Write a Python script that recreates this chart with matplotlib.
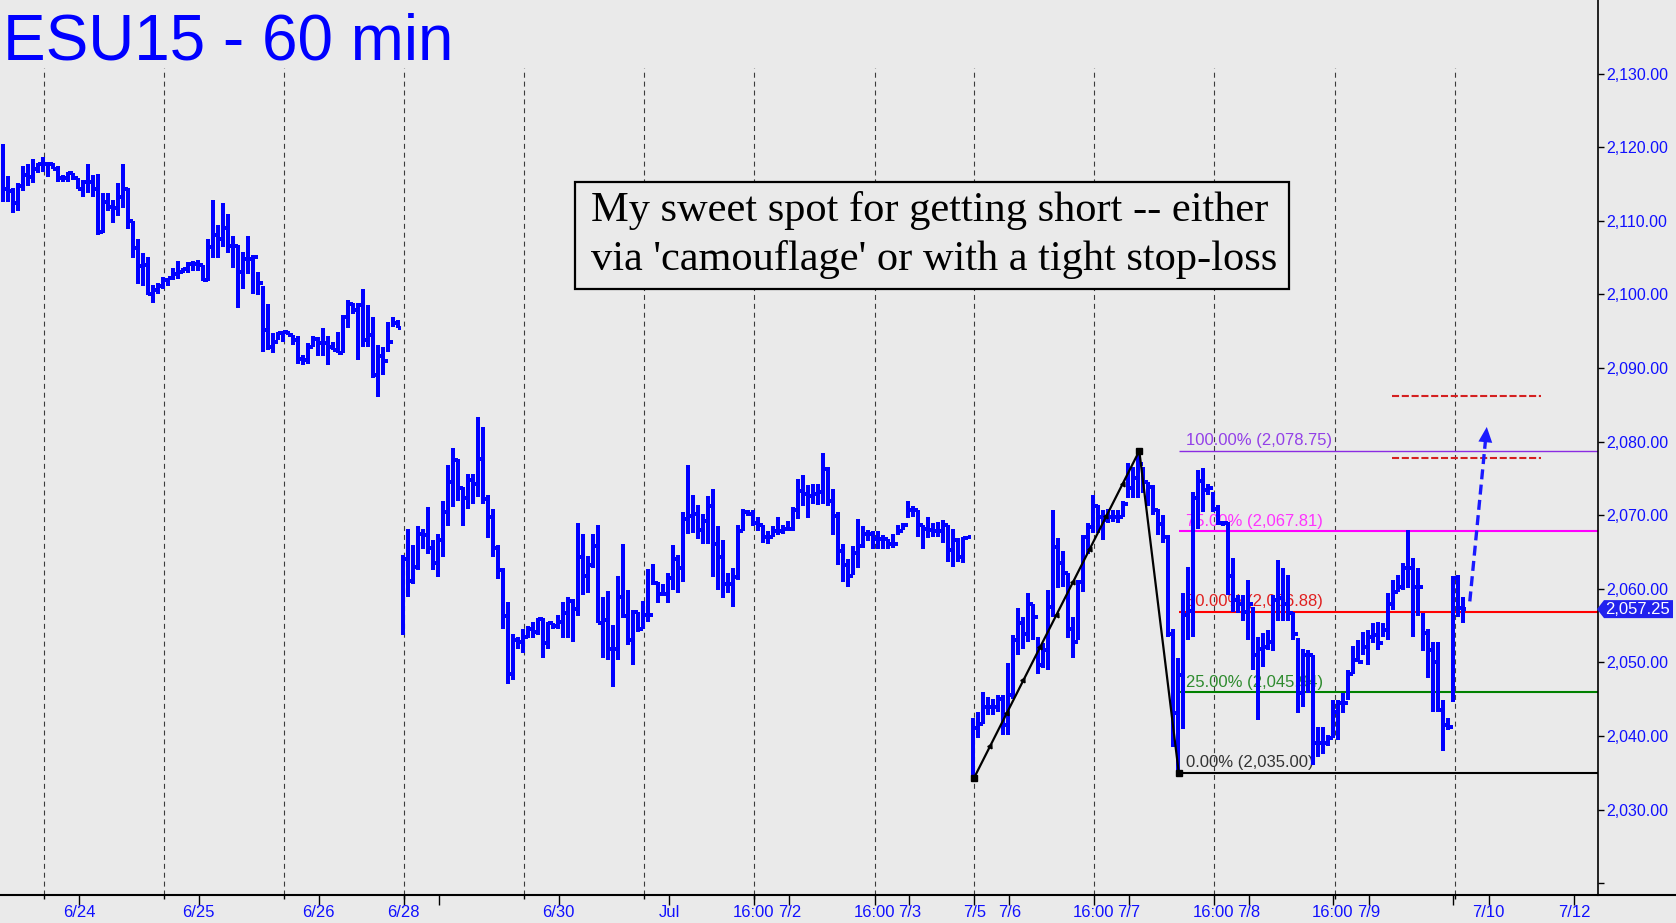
import matplotlib
matplotlib.use("Agg")
import matplotlib.pyplot as plt
from matplotlib.collections import LineCollection
from matplotlib.patches import Polygon, Rectangle
from matplotlib.lines import Line2D
from matplotlib.ticker import FuncFormatter
import numpy as np

# ---------------- data (60 min bars) ----------------
# week 1: 6/23 - 6/26
wk1_open = 2118.0
wk1_high = [2120.4, 2116.1, 2114.4, 2115.1, 2117.5, 2117.7, 2118.4, 2117.8, 2118.7, 2117.8,
            2117.8, 2117.4, 2116.2, 2116.6, 2116.5, 2115.8, 2115.6, 2117.7, 2116.2, 2116.4,
            2113.8, 2113.8, 2112.8, 2115.1, 2117.7, 2114.5, 2110.0, 2107.6, 2105.6, 2105.1,
            2101.3, 2101.5, 2102.4, 2102.3, 2103.6, 2104.6, 2103.6, 2104.4, 2104.5, 2104.7,
            2104.0, 2107.6, 2112.9, 2109.4, 2112.4, 2110.9, 2107.9, 2106.7, 2105.8, 2107.9,
            2105.4, 2103.1, 2101.1, 2098.7, 2094.7, 2094.9, 2095.1, 2095.1, 2094.5, 2094.3,
            2091.8, 2093.4, 2094.3, 2094.2, 2095.4, 2094.3, 2093.6, 2094.9, 2097.2, 2099.3,
            2098.8, 2098.8, 2100.8, 2098.6, 2097.0, 2093.1, 2092.9, 2096.3, 2097.0, 2096.6]
wk1_low = [2112.6, 2112.6, 2111.1, 2111.3, 2114.0, 2114.8, 2115.1, 2116.5, 2116.6, 2116.0,
           2117.0, 2115.3, 2115.3, 2115.3, 2115.6, 2114.3, 2113.3, 2113.8, 2113.3, 2108.1,
           2108.3, 2111.3, 2109.7, 2110.6, 2111.8, 2108.9, 2104.9, 2101.4, 2101.1, 2099.9,
           2098.8, 2100.1, 2100.8, 2101.1, 2102.0, 2102.1, 2102.9, 2102.9, 2103.2, 2103.2,
           2101.8, 2101.8, 2104.9, 2104.9, 2106.4, 2105.6, 2103.6, 2098.1, 2100.8, 2102.8,
           2100.1, 2099.9, 2092.2, 2092.5, 2092.0, 2093.8, 2093.6, 2094.5, 2093.1, 2090.6,
           2090.4, 2090.6, 2092.9, 2091.6, 2091.6, 2090.4, 2092.5, 2092.0, 2092.0, 2095.4,
           2097.4, 2091.1, 2092.9, 2092.9, 2088.6, 2086.1, 2089.1, 2092.2, 2095.6, 2095.4]
wk1_close = [2114.3, 2114.0, 2112.4, 2114.7, 2116.2, 2115.9, 2117.1, 2117.7, 2117.7, 2117.7,
             2117.0, 2115.8, 2115.8, 2116.5, 2115.8, 2114.3, 2115.3, 2115.3, 2114.3, 2108.5,
             2112.6, 2111.9, 2111.7, 2113.3, 2114.3, 2110.0, 2106.3, 2103.9, 2104.0, 2100.1,
             2100.6, 2101.1, 2102.0, 2102.2, 2102.8, 2103.1, 2103.4, 2104.1, 2104.1, 2104.0,
             2101.9, 2106.4, 2108.1, 2107.6, 2109.0, 2106.6, 2106.6, 2103.1, 2104.8, 2104.8,
             2105.1, 2101.6, 2095.2, 2092.9, 2093.6, 2094.7, 2094.9, 2094.5, 2093.8, 2091.3,
             2091.1, 2092.9, 2094.0, 2093.4, 2093.4, 2092.9, 2092.5, 2092.0, 2097.0, 2098.7,
             2097.9, 2098.6, 2093.8, 2094.5, 2089.1, 2091.6, 2090.9, 2093.6, 2096.1, 2095.5]

# week 2: 6/28 - 7/3
wk2_open = 2064.0
wk2_high = [2064.6, 2068.1, 2066.0, 2068.6, 2068.1, 2071.1, 2066.6, 2067.4, 2071.9, 2076.9,
            2079.1, 2077.6, 2073.8, 2075.6, 2075.6, 2083.3, 2082.0, 2072.8, 2070.8, 2065.9,
            2062.8, 2058.2, 2053.9, 2053.5, 2054.6, 2054.9, 2055.5, 2056.1, 2056.1, 2055.5,
            2055.4, 2056.5, 2058.2, 2058.9, 2058.6, 2069.0, 2067.5, 2064.5, 2067.5, 2068.7,
            2058.9, 2059.7, 2055.1, 2061.7, 2066.1, 2059.9, 2057.1, 2056.8, 2058.3, 2062.7,
            2063.4, 2061.0, 2060.7, 2062.2, 2065.9, 2064.6, 2070.4, 2076.8, 2072.8, 2071.4,
            2070.2, 2072.6, 2073.6, 2068.5, 2066.6, 2062.2, 2062.9, 2068.7, 2070.9, 2070.7,
            2070.7, 2069.7, 2068.7, 2067.8, 2068.5, 2069.8, 2068.7, 2069.2, 2071.1, 2074.9,
            2075.5, 2074.1, 2074.3, 2074.3, 2078.4, 2076.5, 2073.6, 2070.4, 2066.1, 2064.1,
            2065.8, 2069.5, 2068.5, 2068.0, 2067.8, 2067.8, 2067.3, 2066.8, 2067.5, 2068.7,
            2069.0, 2071.9, 2071.2, 2070.7, 2068.7, 2069.8, 2069.0, 2069.1, 2069.4, 2068.7,
            2068.2, 2066.9, 2067.1, 2067.1]
wk2_low = [2053.7, 2058.9, 2060.6, 2062.5, 2065.4, 2064.8, 2062.5, 2061.6, 2064.3, 2068.6,
           2071.1, 2071.9, 2068.6, 2070.8, 2071.6, 2072.5, 2071.6, 2066.9, 2064.3, 2061.3,
           2054.6, 2047.1, 2047.6, 2051.8, 2051.3, 2053.3, 2053.3, 2053.7, 2050.6, 2051.8,
           2054.6, 2054.6, 2053.3, 2053.3, 2052.8, 2056.3, 2059.2, 2059.4, 2062.8, 2055.3,
           2050.6, 2050.3, 2046.7, 2050.3, 2056.1, 2052.4, 2049.7, 2054.2, 2054.5, 2055.5,
           2060.5, 2058.1, 2059.0, 2058.1, 2059.8, 2059.5, 2061.0, 2067.4, 2067.6, 2066.8,
           2066.1, 2066.1, 2061.6, 2059.8, 2058.8, 2059.4, 2057.5, 2061.2, 2067.8, 2069.9,
           2068.5, 2067.8, 2066.3, 2066.1, 2067.0, 2067.3, 2067.5, 2067.8, 2067.8, 2069.5,
           2071.2, 2069.6, 2071.6, 2071.4, 2071.6, 2071.2, 2067.3, 2063.2, 2061.0, 2060.2,
           2061.9, 2062.9, 2065.6, 2066.5, 2065.4, 2065.4, 2065.4, 2065.4, 2065.6, 2067.3,
           2068.0, 2069.6, 2069.8, 2067.1, 2065.4, 2066.9, 2067.1, 2067.1, 2066.2, 2063.6,
           2063.0, 2063.7, 2063.5, 2066.9]
wk2_close = [2064.0, 2061.1, 2063.0, 2067.5, 2067.3, 2065.5, 2063.5, 2066.7, 2070.5, 2074.5,
             2077.5, 2073.7, 2072.4, 2074.8, 2074.2, 2077.7, 2072.2, 2069.8, 2065.5, 2062.6,
             2056.3, 2048.5, 2053.1, 2052.8, 2053.5, 2054.5, 2054.1, 2055.9, 2052.7, 2055.3,
             2054.9, 2055.5, 2056.7, 2058.4, 2057.2, 2064.4, 2061.7, 2063.2, 2065.8, 2055.4,
             2055.8, 2051.9, 2051.8, 2058.9, 2056.3, 2053.1, 2056.8, 2054.6, 2056.5, 2056.5,
             2060.8, 2059.3, 2059.3, 2061.5, 2064.1, 2062.9, 2069.5, 2069.9, 2070.2, 2068.0,
             2069.2, 2071.2, 2066.1, 2064.4, 2060.7, 2060.7, 2061.6, 2067.8, 2070.4, 2070.2,
             2069.0, 2068.7, 2067.0, 2067.0, 2067.8, 2067.8, 2068.2, 2068.2, 2070.7, 2073.3,
             2072.9, 2072.6, 2072.9, 2073.1, 2076.3, 2071.9, 2069.9, 2065.1, 2063.2, 2061.7,
             2064.9, 2065.8, 2067.5, 2067.5, 2066.8, 2066.8, 2066.8, 2066.1, 2066.1, 2067.8,
             2068.7, 2070.7, 2070.7, 2068.7, 2068.2, 2068.0, 2067.8, 2067.8, 2068.7, 2065.3,
             2066.6, 2064.4, 2066.9, 2067.1]

# week 3: 7/5 - 7/9
wk3_open = 2036.0
wk3_high = [2042.4, 2043.3, 2046.0, 2045.3, 2045.1, 2045.6, 2045.6, 2049.9, 2053.7, 2057.4,
            2056.2, 2059.4, 2058.0, 2053.5, 2052.6, 2059.8, 2070.7, 2066.9, 2065.1, 2062.1,
            2056.2, 2061.2, 2067.3, 2068.9, 2072.8, 2071.4, 2070.7, 2070.9, 2070.7, 2070.7,
            2071.9, 2077.1, 2076.5, 2078.75, 2076.5, 2074.5, 2074.1, 2070.9, 2070.0, 2067.3,
            2054.5, 2050.6, 2059.5, 2063.0, 2073.2, 2076.2, 2076.4, 2074.3, 2073.2, 2071.4,
            2069.1, 2069.1, 2064.2, 2059.2, 2059.2, 2061.2, 2057.6, 2053.5, 2054.0, 2054.4,
            2059.2, 2063.9, 2062.8, 2061.9, 2056.9, 2053.3, 2051.9, 2051.7, 2051.0, 2041.3,
            2041.3, 2040.2, 2044.9, 2044.9, 2045.8, 2049.0, 2052.2, 2053.1, 2054.2, 2054.4,
            2055.3, 2055.5, 2055.3, 2059.4, 2061.2, 2061.9, 2063.5, 2068.0, 2064.2, 2062.8,
            2056.7, 2054.6, 2052.8, 2052.8, 2044.9, 2042.4, 2061.7, 2061.9, 2058.9]
wk3_low = [2034.25, 2039.7, 2041.7, 2042.9, 2042.9, 2043.3, 2040.1, 2040.1, 2045.1, 2051.0,
           2051.9, 2052.8, 2053.1, 2048.5, 2049.2, 2049.0, 2056.2, 2060.1, 2060.3, 2053.3,
           2050.6, 2053.1, 2059.6, 2064.8, 2067.6, 2067.6, 2066.6, 2068.9, 2069.1, 2068.9,
           2069.8, 2072.3, 2072.3, 2072.3, 2073.0, 2071.3, 2070.0, 2067.3, 2066.2, 2053.5,
           2038.5, 2035.0, 2041.0, 2053.0, 2053.5, 2068.2, 2070.5, 2072.8, 2070.5, 2068.7,
           2068.5, 2059.2, 2056.9, 2056.7, 2055.6, 2053.1, 2049.0, 2042.2, 2049.4, 2051.7,
           2051.5, 2055.6, 2055.6, 2055.6, 2053.1, 2043.1, 2044.0, 2045.8, 2036.1, 2037.2,
           2037.6, 2038.6, 2039.7, 2039.5, 2043.1, 2044.9, 2048.5, 2050.0, 2051.0, 2049.7,
           2052.6, 2051.7, 2053.5, 2053.1, 2057.1, 2059.6, 2059.8, 2060.1, 2053.5, 2056.3,
           2051.5, 2047.9, 2043.3, 2043.3, 2038.0, 2040.8, 2044.7, 2056.2, 2055.3]
wk3_close = [2041.1, 2041.7, 2044.0, 2044.0, 2044.0, 2045.1, 2041.5, 2045.6, 2053.1, 2055.3,
             2053.9, 2058.0, 2056.2, 2049.7, 2051.7, 2057.6, 2065.7, 2063.5, 2062.1, 2054.6,
             2052.8, 2061.0, 2067.1, 2068.4, 2071.2, 2069.8, 2069.4, 2069.8, 2069.8, 2069.8,
             2071.6, 2073.7, 2075.0, 2077.0, 2074.5, 2073.8, 2070.7, 2068.8, 2067.1, 2053.9,
             2043.1, 2048.3, 2056.5, 2057.0, 2072.3, 2074.6, 2073.4, 2073.7, 2070.9, 2068.9,
             2068.9, 2061.7, 2058.5, 2058.0, 2056.9, 2058.0, 2051.0, 2051.9, 2052.1, 2052.8,
             2058.5, 2058.7, 2058.0, 2056.7, 2053.9, 2045.8, 2051.0, 2051.0, 2039.0, 2039.0,
             2039.0, 2039.7, 2043.3, 2044.5, 2044.5, 2048.5, 2050.3, 2050.1, 2052.1, 2053.5,
             2053.7, 2052.6, 2054.4, 2058.0, 2059.6, 2060.3, 2062.8, 2062.8, 2060.3, 2060.3,
             2054.0, 2051.7, 2050.1, 2043.5, 2041.5, 2041.3, 2061.5, 2057.4, 2057.25]

# x axis (bar index) ticks
tick_pos = [15.2, 39.1, 63.1, 80.1, 87.1, 111.1, 133.2, 150.1, 157.2, 174.3, 181.2,
            194.2, 201.2, 218.1, 225.1, 242.1, 249.1, 265.9, 273.1, 290.0, 297.1, 314.2]
tick_lbl = ["6/24", "6/25", "6/26", "6/28", "", "6/30", "Jul", "16:00", "7/2", "16:00", "7/3",
            "7/5", "7/6", "16:00", "7/7", "16:00", "7/8", "16:00", "7/9", "", "7/10", "7/12"]
session_lines = [8.1, 32.1, 56.1, 80.2, 104.1, 128.1, 150.2, 174.3, 194.2, 218.1,
                 242.1, 266.3, 290.3]

# swing (A-B-C) and retracement levels
swing_x = [194.1, 227.2, 235.1]
swing_y = [2034.25, 2078.75, 2035.00]
fib_pct = [0, 25, 50, 75, 100]
fib_lvl = [2035.00, 2045.94, 2056.88, 2067.81, 2078.75]
fib_col = ["#000000", "#008000", "#FF0000", "#FF00FF", "#8A2BE2"]
fib_txt = ["#333333", "#2E8B2E", "#E02020", "#FF33FF", "#9340E8"]

# targets / projection arrow
target_lvl = [2077.75, 2086.25]
target_x = [277.7, 307.5]
arrow_from = (293.3, 2058.3)
arrow_to = (296.7, 2082.0)

# ---------------- figure ----------------
bg = "#EAEAEA"
W, H = 1676, 923
plt.rcParams["font.family"] = ["Liberation Sans", "DejaVu Sans"]
fig = plt.figure(figsize=(W / 100, H / 100), dpi=100, facecolor=bg)
ax = fig.add_axes([0, 1 - 895 / H, 1598 / W, 895 / H])
ax.set_facecolor(bg)
ylo, yhi = 2018.41, 2140.01
ax.set_xlim(-0.66, 318.94)
ax.set_ylim(ylo, yhi)

high = np.concatenate([wk1_high, wk2_high, wk3_high])
low = np.concatenate([wk1_low, wk2_low, wk3_low])
close = np.concatenate([wk1_close, wk2_close, wk3_close])
op = np.concatenate([np.r_[wk1_open, wk1_close[:-1]],
                     np.r_[wk2_open, wk2_close[:-1]],
                     np.r_[wk3_open, wk3_close[:-1]]])
xb = np.arange(len(high))

tk = 0.5
segs = []
for x, o, h, l, c in zip(xb, op, high, low, close):
    segs.append([(x, l), (x, h)])
    segs.append([(x - tk, o), (x, o)])
    segs.append([(x, c), (x + tk, c)])
ax.add_collection(LineCollection(segs, colors="#0000FF", linewidths=1.5,
                                 capstyle="butt", antialiaseds=False, zorder=3))

# session separators
ax.vlines(session_lines, ylo, 2130.8, colors="#3C3C3C", linewidth=0.8,
          linestyles=(0, (4.5, 3.5)), zorder=1)

# retracement lines
fib_x0 = swing_x[2]
for p, lv, lc, tc in zip(fib_pct, fib_lvl, fib_col, fib_txt):
    ax.hlines(lv, fib_x0, 318.94, colors=lc, linewidth=1.0 if p == 100 else 1.5, zorder=2)
    ax.annotate(f"{p:.2f}% ({lv:,.2f})", (fib_x0 + 1.4, lv), xytext=(0, 4),
                textcoords="offset points", color=tc, fontsize=12, va="baseline",
                ha="left", zorder=2)

# swing line
ax.plot(swing_x, swing_y, color="black", lw=1.6, zorder=4)
ax.plot(swing_x, swing_y, "s", ms=5, color="black", zorder=5)
fr = np.arange(1, 10) / 10
ax.plot(swing_x[0] + fr * (swing_x[1] - swing_x[0]), swing_y[0] + fr * (swing_y[1] - swing_y[0]),
        ls="none", marker=(3, 0, -27), ms=4, color="black", zorder=5)

# targets
ax.hlines(target_lvl, target_x[0], target_x[1], colors="#D42020", linewidth=1.5,
          linestyles=(0, (3.4, 1.3)), zorder=4)

# projection arrow
t = 0.086
base = (arrow_to[0] - t * (arrow_to[0] - arrow_from[0]), arrow_to[1] - t * (arrow_to[1] - arrow_from[1]))
ax.plot([arrow_from[0], base[0]], [arrow_from[1], base[1]], color="#1A1AFF", lw=2.4,
        dashes=(3, 1.6), zorder=5)
ax.annotate("", xy=arrow_to, xytext=base,
            arrowprops=dict(arrowstyle="-|>,head_length=1.1,head_width=0.5", mutation_scale=10,
                            color="#1A1AFF", lw=0, shrinkA=0, shrinkB=0), zorder=5)

# axes styling
for s in ["top", "left"]:
    ax.spines[s].set_visible(False)
ax.spines["right"].set_linewidth(1.2)
ax.spines["bottom"].set_linewidth(1.5)
fig.add_artist(Line2D([1598 / W, 1], [1 - 895 / H] * 2, color="black", lw=1.5))

ax.yaxis.tick_right()
ax.set_yticks(np.arange(2030, 2131, 10))
ax.set_yticks([2020], minor=True)
ax.yaxis.set_major_formatter(FuncFormatter(lambda v, p: f"{v:,.2f}"))
ax.tick_params(axis="y", which="both", direction="out", length=4, width=1,
               labelcolor="#1010FF", labelsize=11.5, pad=2)

ax.set_xticks(tick_pos)
ax.set_xticklabels(tick_lbl)
ax.set_xticks(session_lines, minor=True)
ax.tick_params(axis="x", which="major", direction="out", length=7, width=1,
               labelcolor="#1010FF", labelsize=12, pad=0)
ax.tick_params(axis="x", which="minor", direction="out", length=3, width=1)

# last price tag
last = close[-1]
yp = ax.transData.transform((0, last))[1]
h2 = 9
tag = Polygon([(1597, yp), (1604, yp + h2), (1673, yp + h2), (1673, yp - h2), (1604, yp - h2)],
              closed=True, transform=None, facecolor="#2222EE", edgecolor="none", zorder=6)
fig.add_artist(tag)
fig.text(1605 / W, yp / H, f"{last:,.2f}", color="white", fontsize=12, va="center",
         ha="left", zorder=8)

# title
fig.text(3 / W, 1 - 59 / H, "ESU15 - 60 min", fontsize=46, color="#0000FF",
         va="baseline", ha="left")

# comment box
fig.add_artist(Rectangle((575 / W, 1 - 289 / H), (1289 - 575) / W, 107 / H,
                         transform=fig.transFigure, facecolor=bg, edgecolor="black", lw=1.6))
fig.text(591 / W, 1 - 221 / H, "My sweet spot for getting short -- either",
         family="Liberation Serif", fontsize=30.5, color="black", va="baseline")
fig.text(591 / W, 1 - 270 / H, "via 'camouflage' or with a tight stop-loss",
         family="Liberation Serif", fontsize=30.5, color="black", va="baseline")

fig.savefig("out.png", dpi=100, facecolor=bg)
